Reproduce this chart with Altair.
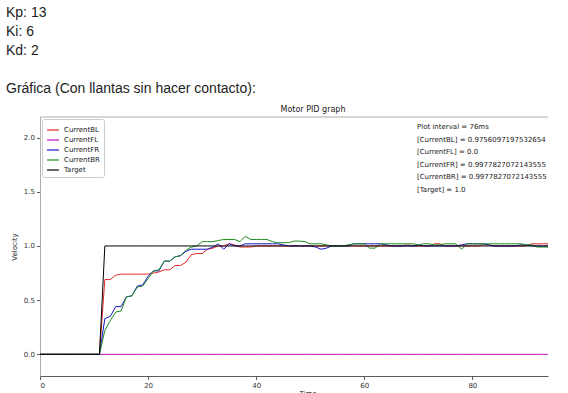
import altair as alt
import pandas as pd

series_names = ["CurrentBL", "CurrentFL", "CurrentFR", "CurrentBR", "Target"]
series_colors = ["#e8262a", "#c010c0", "#1818c8", "#1e8a1e", "#000000"]

time = list(range(95))

current_bl = [
    0, 0, 0, 0, 0, 0, 0, 0, 0, 0, 0, 0,
    0.69, 0.69, 0.73, 0.74, 0.74, 0.74, 0.74, 0.74, 0.74, 0.75,
    0.76, 0.78, 0.78, 0.82, 0.82, 0.85, 0.92, 0.93, 0.93, 0.97,
    0.98, 1.00, 1.00, 1.02, 1.01, 0.99, 0.99, 0.99, 1.00, 1.00,
    1.00, 1.00, 1.00, 1.00, 1.00, 1.00, 1.00, 1.00, 1.00, 1.00,
    1.00, 1.00, 1.00, 1.00, 1.00, 1.00, 1.00, 1.00, 1.00, 1.00,
    1.00, 1.00, 1.00, 1.00, 1.00, 1.00, 1.01, 1.00, 1.00, 1.00,
    1.00, 1.02, 1.02, 1.00, 1.00, 1.00, 1.00, 1.00, 1.00, 1.00,
    1.01, 1.01, 1.00, 1.00, 1.00, 1.00, 1.00, 1.00, 1.00, 1.02,
    1.02, 1.02, 1.02,
]
current_fl = [
    0, 0, 0, 0, 0, 0, 0, 0, 0, 0, 0, 0, 0, 0, 0, 0, 0, 0, 0, 0,
    0, 0, 0, 0, 0, 0, 0, 0, 0, 0, 0, 0, 0, 0, 0, 0, 0, 0, 0, 0,
    0, 0, 0, 0, 0, 0, 0, 0, 0, 0, 0, 0, 0, 0, 0, 0, 0, 0, 0, 0,
    0, 0, 0, 0, 0, 0, 0, 0, 0, 0, 0, 0, 0, 0, 0, 0, 0, 0, 0, 0,
    0, 0, 0, 0, 0, 0, 0, 0, 0, 0, 0, 0, 0, 0, 0,
]
current_fr = [
    0, 0, 0, 0, 0, 0, 0, 0, 0, 0, 0, 0,
    0.33, 0.35, 0.44, 0.44, 0.53, 0.54, 0.63, 0.64, 0.72, 0.77,
    0.77, 0.86, 0.86, 0.90, 0.91, 0.95, 0.97, 0.97, 0.97, 0.97,
    0.99, 1.02, 0.97, 1.02, 1.00, 1.00, 1.02, 1.02, 1.02, 1.02,
    1.02, 1.02, 1.02, 1.01, 1.00, 1.00, 1.00, 1.00, 1.00, 0.99,
    0.97, 0.98, 1.00, 1.00, 1.00, 1.00, 1.02, 1.02, 1.02, 1.02,
    1.02, 1.02, 1.01, 1.00, 1.00, 1.00, 1.00, 1.00, 1.01, 1.00,
    1.00, 1.00, 1.00, 1.00, 1.00, 1.00, 1.01, 1.02, 1.02, 1.02,
    1.02, 1.01, 1.00, 1.00, 1.00, 1.00, 1.00, 1.01, 1.01, 1.00,
    1.00, 1.00, 1.00,
]
current_br = [
    0, 0, 0, 0, 0, 0, 0, 0, 0, 0, 0, 0,
    0.22, 0.31, 0.39, 0.40, 0.53, 0.54, 0.62, 0.63, 0.70, 0.77,
    0.78, 0.86, 0.86, 0.90, 0.91, 0.96, 0.99, 1.00, 1.04, 1.04,
    1.04, 1.05, 1.06, 1.06, 1.06, 1.04, 1.09, 1.06, 1.06, 1.06,
    1.06, 1.04, 1.03, 1.03, 1.03, 1.045, 1.045, 1.04, 1.02, 1.02,
    1.02, 1.01, 1.00, 1.00, 1.00, 1.01, 1.02, 1.02, 1.02, 0.98,
    0.98, 1.02, 1.02, 1.02, 1.02, 1.02, 1.02, 1.02, 1.01, 1.02,
    1.02, 1.01, 1.01, 1.02, 1.02, 1.02, 0.97, 1.02, 1.02, 1.02,
    1.02, 1.02, 1.02, 1.02, 1.02, 1.02, 1.02, 1.02, 1.01, 1.01,
    0.99, 0.99, 0.99, 0.99,
]
target = [
    0, 0, 0, 0, 0, 0, 0, 0, 0, 0, 0, 0,
    1, 1, 1, 1, 1, 1, 1, 1, 1, 1, 1, 1, 1, 1, 1, 1, 1, 1,
    1, 1, 1, 1, 1, 1, 1, 1, 1, 1, 1, 1, 1, 1, 1, 1, 1, 1,
    1, 1, 1, 1, 1, 1, 1, 1, 1, 1, 1, 1, 1, 1, 1, 1, 1, 1,
    1, 1, 1, 1, 1, 1, 1, 1, 1, 1, 1, 1, 1, 1, 1, 1, 1, 1,
    1, 1, 1, 1, 1, 1, 1, 1, 1, 1, 1,
]

x_ticks = [0, 20, 40, 60, 80]
y_ticks = [0.0, 0.5, 1.0, 1.5, 2.0]

header_lines = ["Kp: 13", "Ki: 6", "Kd: 2", "Gráfica (Con llantas sin hacer contacto):"]
info_lines = [
    "Plot interval = 76ms",
    "[CurrentBL] = 0.9756097197532654",
    "[CurrentFL] = 0.0",
    "[CurrentFR] = 0.9977827072143555",
    "[CurrentBR] = 0.9977827072143555",
    "[Target] = 1.0",
]

all_series = [current_bl, current_fl, current_fr, current_br, target]
rows = []
for name, vals in zip(series_names, all_series):
    n = min(len(time), len(vals))
    for i in range(n):
        rows.append({"t": time[i], "v": vals[i], "series": name})
df = pd.DataFrame(rows)

W, H = 508, 259
MPL = "DejaVu Sans"

lines = alt.Chart(df).mark_line(strokeWidth=1, clip=True).encode(
    x=alt.X("t:Q", scale=alt.Scale(domain=[0, 94], nice=False, zero=False),
            axis=alt.Axis(values=x_ticks, title=None, grid=False, tickSize=3.5,
                          labelFontSize=7, labelFont=MPL, labelColor="#333",
                          domainColor="#333", tickColor="#333", labelPadding=2,
                          tickWidth=0.8, domainWidth=0.8)),
    y=alt.Y("v:Q", scale=alt.Scale(domain=[-0.2, 2.19], nice=False, zero=False),
            axis=alt.Axis(values=y_ticks, format=".1f", title=None, grid=False,
                          tickSize=3.5, labelFontSize=7, labelFont=MPL,
                          labelColor="#333", domainColor="#999", tickColor="#333",
                          labelPadding=2, tickWidth=0.8, domainWidth=0.8)),
    color=alt.Color("series:N", sort=series_names,
                    scale=alt.Scale(domain=series_names, range=series_colors),
                    legend=alt.Legend(orient="none", legendX=2, legendY=2, title=None,
                                      symbolType="stroke", symbolSize=140,
                                      symbolStrokeWidth=1.2, labelFontSize=7,
                                      labelFont=MPL, labelColor="#222",
                                      rowPadding=0, padding=4, strokeColor="#ccc",
                                      fillColor="white", cornerRadius=2,
                                      labelOffset=4)),
    detail="series:N",
)

one = pd.DataFrame({"a": [0]})

top_spine = alt.Chart(one).mark_rule(color="#999", strokeWidth=0.8).encode(
    x=alt.value(0), x2=alt.value(W), y=alt.value(0)
)


def label(text, x, y, size, font, color="#222", align="left", angle=0, baseline="alphabetic"):
    return alt.Chart(one).mark_text(
        align=align, baseline=baseline, fontSize=size, font=font, color=color, angle=angle
    ).encode(x=alt.value(x), y=alt.value(y), text=alt.value(text))


layers = [lines, top_spine]
header_y = [-100, -81, -62, -24]
for txt, yy in zip(header_lines, header_y):
    layers.append(label(txt, -34, yy, 14, "Liberation Sans", "#222"))

layers.append(label("Motor PID graph", 273, -5, 8, MPL, "#222", align="center"))
layers.append(label("Time", 268, 279, 7, MPL, "#222", align="center"))
layers.append(label("Velocity", -23, 130, 7, MPL, "#222", align="center", angle=270))

for i, txt in enumerate(info_lines):
    layers.append(label(txt, 377, 10 + i * 12.6, 7, MPL, "#222", baseline="middle"))

chart = alt.layer(*layers).properties(
    width=W, height=H,
    padding={"left": 40, "top": 117, "right": 20, "bottom": 17},
    autosize=alt.AutoSizeParams(type="none"),
    background="white",
).configure_view(stroke=None)

chart.save("out.html", embed_options={"renderer": "svg", "actions": False})
